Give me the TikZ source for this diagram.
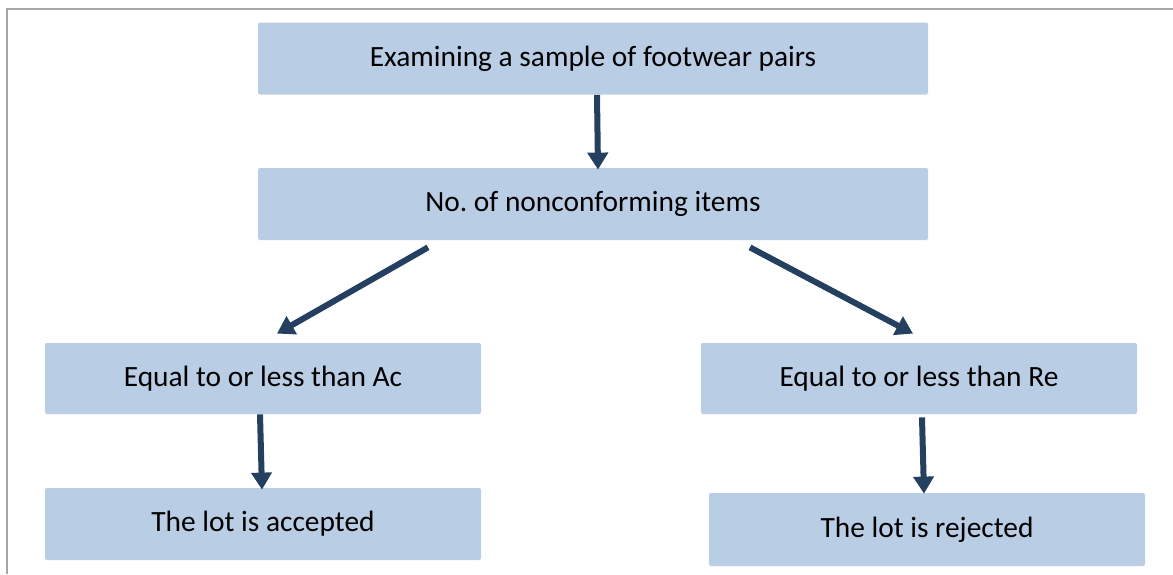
\documentclass[tikz,border=0pt]{standalone}
\usepackage{fontspec}
\setmainfont{Carlito}
\usetikzlibrary{arrows.meta,calc}
\definecolor{boxfill}{HTML}{B9CDE4}
\definecolor{arrowcol}{HTML}{243F60}
\definecolor{framecol}{HTML}{A6A6A6}
\tikzset{
  flowbox/.style={draw=none, fill=boxfill, rounded corners=1pt, inner sep=0pt,
    font=\fontsize{14.7}{17}\selectfont, text=black},
  widebox/.style={flowbox, minimum width=335pt, minimum height=36pt},
  sidebox/.style={flowbox, minimum width=218pt, minimum height=35.5pt},
  flowarrow/.style={draw=arrowcol, line width=3pt, -{Triangle[width=10pt,length=8.5pt]}}
}
\begin{document}
\frenchspacing
\begin{tikzpicture}[x=0.5pt,y=-0.5pt]
\useasboundingbox (0,0) rectangle (1173,574);
\draw[framecol, line width=1pt] (7,574) -- (7,9) -- (1173,9);
\node[widebox] (n1) at (593,58.5) {Examining a sample of footwear pairs};
\node[widebox] (n2) at (593,204) {No.\ of nonconforming items};
\node[sidebox] (n3) at (263,378.5) {Equal to or less than Ac};
\node[sidebox] (n4) at (919,378.5) {Equal to or less than Re};
\node[sidebox, minimum height=36pt] (n5) at (263,524) {The lot is accepted};
\node[sidebox, minimum height=36.5pt] (n6) at (927,529.5) {The lot is rejected};
\draw[flowarrow] ([shift={(4,0)}]n1.south) -- ([shift={(5,2)}]n2.north);
\draw[flowarrow] ([shift={(-165,7)}]n2.south) -- ([shift={(14,-9)}]n3.north);
\draw[flowarrow] ([shift={(157,7)}]n2.south) -- ([shift={(-6,-9)}]n4.north);
\draw[flowarrow] ([shift={(-3,0)}]n3.south) -- ([shift={(-1,2)}]n5.north);
\draw[flowarrow] ([shift={(3,3)}]n4.south) -- ([shift={(-3,1)}]n6.north);
\end{tikzpicture}
\end{document}
